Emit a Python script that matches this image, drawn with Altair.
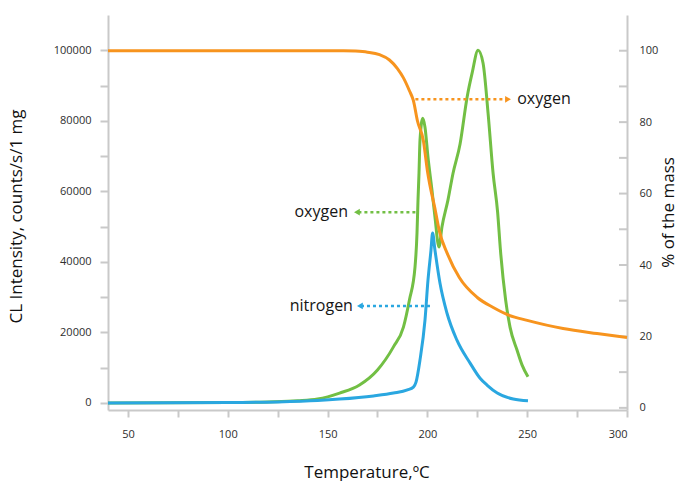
import altair as alt
import pandas as pd

# Mass loss curve (% of the mass, right axis)
temp_mass = [40, 100, 158, 164, 170, 176, 181, 185, 188, 191, 193, 195, 198, 200, 204, 206,
             210, 216, 225, 233, 241, 250, 268, 285, 300]
mass_pct = [100, 100, 100, 99.9, 99.6, 98.9, 97.4, 95.0, 92.4, 88.8, 86.0, 80.4, 74.8, 66.4,
            55.2, 49.5, 43.2, 36.5, 30.9, 28.1, 25.9, 24.5, 22.2, 20.8, 19.7]

# Chemiluminescence in oxygen (left axis)
temp_o2 = [40, 100, 120, 135, 145, 156, 166, 175, 183, 188, 191, 193.8, 194.8, 195.3,
           195.8, 196.3, 197.7, 198.8, 200.3, 202.3, 203.8, 205.8, 207.3, 210.3, 212.8,
           216.4, 219.9, 222.4, 225.4, 227.9, 230.4, 232.9, 235.2, 236.6, 239.2, 241.4,
           244.9, 247.4, 250.4]
cl_o2 = [0, 100, 300, 600, 1100, 2800, 5100, 9350, 15900, 21500, 29200, 38500, 48200, 57500,
         65200, 74500, 80700, 78200, 69700, 60300, 52700, 44200, 49900, 57500, 65000,
         73500, 86700, 93500, 100000, 96300, 82200, 65200, 54000, 43300, 29200, 21500,
         15000, 10800, 7400]

# Chemiluminescence in nitrogen (left axis)
temp_n2 = [40, 100, 125, 145, 156, 173, 183, 190, 193, 194.3, 196.3, 198.8, 200.3, 201.8,
           202.6, 203.8, 206.3, 209.8, 214.8, 221.4, 226.4, 230, 235, 243, 250.4]
cl_n2 = [0, 100, 300, 700, 1100, 2000, 2800, 3700, 4500, 5900, 12200, 23500, 34800, 43300,
         48200, 43300, 34000, 25500, 17800, 11300, 7000, 5000, 2800, 1100, 600]

# Callouts: dotted arrow from curve to label
callout_label = ["oxygen", "oxygen", "nitrogen"]
callout_from = [194, 194, 201.3]
callout_to = [240.4, 164.7, 166.2]
callout_level = [86100, 54100, 27500]
callout_text_x = [245, 160.2, 162.7]
callout_align = ["left", "right", "right"]

ORANGE = "#F7941E"
GREEN = "#72BF44"
BLUE = "#2AA7E0"
AXIS_GREY = "#c9c9c9"

x_scale = alt.Scale(domain=[40, 300], nice=False, zero=False)
y_left_scale = alt.Scale(domain=[-2000, 110000], nice=False, zero=False)
y_right_scale = alt.Scale(domain=[-0.6, 110], nice=False, zero=False)

x_axis = alt.Axis(
    title="Temperature,ºC",
    values=list(range(50, 301, 25)),
    labelExpr="datum.value % 50 == 0 ? datum.label : ''",
    tickSize=7, labelPadding=11,
    titleX=258.5, titleY=67, titleAlign="center", titleBaseline="alphabetic",
)
left_axis = alt.Axis(
    title="CL Intensity, counts/s/1 mg",
    values=list(range(0, 100001, 10000)),
    labelExpr="datum.value % 20000 == 0 ? datum.label : ''",
    format="d",
    tickSize=8, labelPadding=9,
    titleX=-87, titleY=201, titleAngle=270, titleAlign="center", titleBaseline="alphabetic",
)
right_axis = alt.Axis(
    title="% of the mass",
    orient="right",
    values=list(range(0, 101, 20)),
    ticks=False, labelPadding=12,
    titleX=46, titleY=197, titleAngle=270, titleAlign="center", titleBaseline="alphabetic",
)


def xq(field):
    return alt.X(field, type="quantitative", scale=x_scale, axis=x_axis)


def yl(field):
    return alt.Y(field, type="quantitative", scale=y_left_scale, axis=left_axis)


def yr(field):
    return alt.Y(field, type="quantitative", scale=y_right_scale, axis=right_axis)


o2_df = pd.DataFrame({"t": temp_o2, "cl": cl_o2})
n2_df = pd.DataFrame({"t": temp_n2, "cl": cl_n2})
mass_df = pd.DataFrame({"t": temp_mass, "pct": mass_pct})

green = alt.Chart(o2_df).mark_line(color=GREEN, strokeWidth=3, interpolate="monotone").encode(
    x=xq("t"), y=yl("cl"))
blue = alt.Chart(n2_df).mark_line(color=BLUE, strokeWidth=3, interpolate="monotone").encode(
    x=xq("t"), y=yl("cl"))

callout_colors = [ORANGE, GREEN, BLUE]
callout_layers = []
for i in range(len(callout_label)):
    d = pd.DataFrame({"t": [callout_from[i]], "t2": [callout_to[i]], "cl": [callout_level[i]],
                      "tip": [callout_to[i]], "tx": [callout_text_x[i]], "txt": [callout_label[i]]})
    base = alt.Chart(d)
    dots = base.mark_rule(color=callout_colors[i], strokeWidth=2.5, strokeDash=[3, 3]).encode(
        x=xq("t"), x2="t2", y=yl("cl"))
    shape = "triangle-right" if callout_to[i] > callout_from[i] else "triangle-left"
    head = base.mark_point(shape=shape, filled=True, size=45, opacity=1,
                           color=callout_colors[i]).encode(x=xq("tip"), y=yl("cl"))
    label = base.mark_text(align=callout_align[i], baseline="middle", font="Open Sans",
                           fontSize=16, color="#161616").encode(
        x=xq("tx"), y=yl("cl"), text="txt:N")
    callout_layers += [dots, head, label]

left_group = alt.layer(green, blue, *callout_layers)

orange = alt.Chart(mass_df).mark_line(color=ORANGE, strokeWidth=3, interpolate="monotone").encode(
    x=xq("t"), y=yr("pct"))

# Right-axis ticks point into the plot
tick_df = pd.DataFrame({"pct": list(range(0, 101, 10))})
right_ticks = alt.Chart(tick_df).mark_rule(color=AXIS_GREY, strokeWidth=2).encode(
    x=alt.value(511), x2=alt.value(519), y=yr("pct"))

right_group = alt.layer(right_ticks, orange)

chart = alt.layer(left_group, right_group).resolve_scale(y="independent").properties(
    width=519,
    height=395,
    autosize=alt.AutoSizeParams(type="none"),
    padding={"left": 108, "top": 15, "right": 51, "bottom": 71},
    background="white",
).configure_view(stroke=None).configure_axis(
    grid=False,
    domainColor=AXIS_GREY,
    domainWidth=2,
    tickColor=AXIS_GREY,
    tickWidth=2,
    labelColor="#2e2e2e",
    labelFont="Open Sans",
    labelFontSize=11,
    titleFont="Open Sans",
    titleFontSize=17,
    titleFontWeight="normal",
    titleColor="#111111",
)

chart.save("out.html", embed_options={"renderer": "svg", "actions": False})
